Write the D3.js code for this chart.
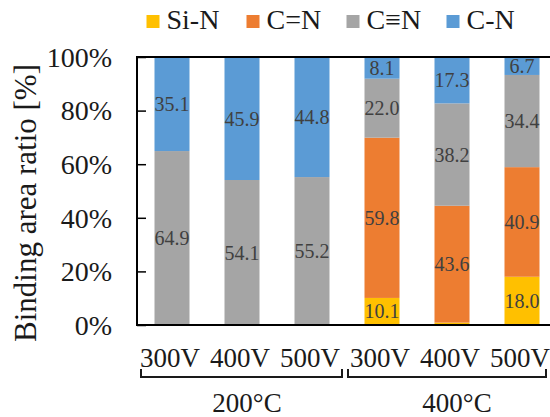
<!DOCTYPE html>
<html>
<head>
<meta charset="utf-8">
<script src="https://cdn.jsdelivr.net/npm/d3@7"></script>
<style>
  body { margin: 0; background: #fff; }
  svg text { font-family: "Liberation Serif", "Times New Roman", serif; }
</style>
</head>
<body>
<svg id="container"></svg>
<script>
// categories and values
const voltages = ["300V", "400V", "500V", "300V", "400V", "500V"];
const temps = ["200\u00B0C", "400\u00B0C"];
const seriesNames = ["Si-N", "C=N", "C\u2261N", "C-N"];
const colors = ["#FFC000", "#ED7D31", "#A5A5A5", "#5B9BD5"];
const siN = [0, 0, 0, 10.1, 0.9, 18.0];
const cDouble = [0, 0, 0, 59.8, 43.6, 40.9];
const cTriple = [64.9, 54.1, 55.2, 22.0, 38.2, 34.4];
const cSingle = [35.1, 45.9, 44.8, 8.1, 17.3, 6.7];
const yTicks = [0, 20, 40, 60, 80, 100];

const width = 550, height = 417;
const svg = d3.select("#container").attr("width", width).attr("height", height);

const rows = voltages.map((v, i) => ({
  i: i, "Si-N": siN[i], "C=N": cDouble[i], "C\u2261N": cTriple[i], "C-N": cSingle[i]
}));
const stacked = d3.stack().keys(seriesNames)(rows);

const x = d3.scaleBand().domain(d3.range(voltages.length)).range([137, 557])
  .paddingInner(0.5).paddingOuter(0.25);
const y = d3.scaleLinear().domain([0, 100]).range([325, 57]);
const color = d3.scaleOrdinal().domain(seriesNames).range(colors);

// bars
const layer = svg.selectAll(".layer").data(stacked).enter().append("g")
  .attr("fill", d => color(d.key));
layer.selectAll("rect").data(d => d).enter().append("rect")
  .attr("x", d => x(d.data.i))
  .attr("width", x.bandwidth())
  .attr("y", d => y(d[1]))
  .attr("height", d => y(d[0]) - y(d[1]));

// data labels
stacked.forEach(s => {
  svg.append("g").selectAll("text").data(s.filter(d => d[1] - d[0] >= 2)).enter().append("text")
    .attr("x", d => x(d.data.i) + x.bandwidth() / 2)
    .attr("y", d => y((d[0] + d[1]) / 2))
    .attr("dy", "0.35em")
    .attr("text-anchor", "middle")
    .attr("font-size", 20)
    .attr("fill", "#404040")
    .text(d => (d[1] - d[0]).toFixed(1));
});

// frame
svg.append("path")
  .attr("d", `M${x.range()[1]},${y(100)}H137V${y(0)}H${x.range()[1]}`)
  .attr("fill", "none").attr("stroke", "#000").attr("stroke-width", 2);

// y axis ticks (inside) and labels
const yAxis = svg.append("g").attr("transform", "translate(137,0)")
  .call(d3.axisRight(y).tickValues(yTicks).tickSize(9).tickFormat(""));
yAxis.select(".domain").remove();
yAxis.selectAll("line").attr("stroke", "#000").attr("stroke-width", 1.5);
svg.append("g").selectAll("text").data(yTicks).enter().append("text")
  .attr("x", 112).attr("y", d => y(d)).attr("dy", "0.35em")
  .attr("text-anchor", "end").attr("font-size", 28).attr("fill", "#1a1a1a")
  .text(d => d + "%");

svg.append("text")
  .attr("transform", "translate(36,203) rotate(-90)")
  .attr("text-anchor", "middle").attr("font-size", 31).attr("fill", "#1a1a1a")
  .text("Binding area ratio [%]");

// category labels
svg.append("g").selectAll("text").data(voltages).enter().append("text")
  .attr("x", (d, i) => x(i) + x.bandwidth() / 2 - 2)
  .attr("y", 367)
  .attr("text-anchor", "middle").attr("font-size", 27).attr("fill", "#1a1a1a")
  .text(d => d);

// group brackets and temperature labels
temps.forEach((t, g) => {
  const x0 = g === 0 ? 141 : 348;
  const x1 = g === 0 ? 342 : 546;
  svg.append("path")
    .attr("d", `M${x0},369V377H${x1}V369`)
    .attr("fill", "none").attr("stroke", "#1a1a1a").attr("stroke-width", 2);
  const c = (x(g * 3) + x(g * 3 + 2) + x.bandwidth()) / 2 + 5;
  svg.append("text")
    .attr("x", c).attr("y", 412)
    .attr("text-anchor", "middle").attr("font-size", 27).attr("fill", "#1a1a1a")
    .text(t);
});

// legend
const legend = svg.append("g").selectAll("g").data(seriesNames).enter().append("g")
  .attr("transform", (d, i) => `translate(${146.5 + 100 * i},0)`);
legend.append("rect").attr("x", 0).attr("y", 15).attr("width", 13).attr("height", 13)
  .attr("fill", d => color(d));
legend.append("text").attr("x", 20).attr("y", 29)
  .attr("font-size", 28).attr("fill", "#1a1a1a")
  .text(d => d);
</script>
</body>
</html>
